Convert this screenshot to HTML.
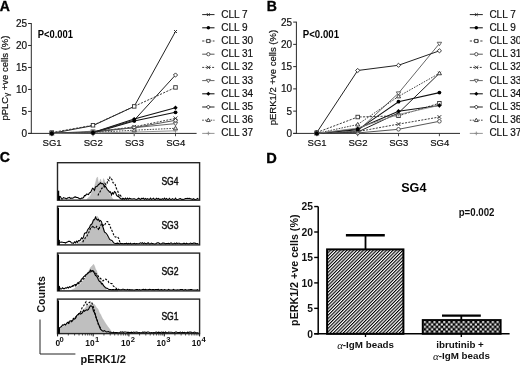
<!DOCTYPE html>
<html><head><meta charset="utf-8"><style>
html,body{margin:0;padding:0;background:#fff;}
body{width:520px;height:365px;overflow:hidden;font-family:"Liberation Sans", sans-serif;}
svg text{font-family:"Liberation Sans", sans-serif;}
</style></head><body>
<svg width="520" height="365" viewBox="0 0 520 365" style="display:block;filter:blur(0.25px);font-family:'Liberation Sans', sans-serif">
<rect width="520" height="365" fill="#fff"/>
<text x="-0.20" y="10.80" font-size="14.0" text-anchor="start" font-weight="bold" fill="#000" stroke="#000" stroke-width="0.35">A</text>
<line x1="31.30" y1="23.10" x2="31.30" y2="133.90" stroke="#2a2a2a" stroke-width="1.0" stroke-linecap="butt"/>
<line x1="28.10" y1="133.40" x2="31.30" y2="133.40" stroke="#2a2a2a" stroke-width="1.0" stroke-linecap="butt"/>
<text x="27.00" y="136.90" font-size="10.0" text-anchor="end" font-weight="normal" fill="#111" stroke="#111" stroke-width="0.2">0</text>
<line x1="28.10" y1="111.42" x2="31.30" y2="111.42" stroke="#2a2a2a" stroke-width="1.0" stroke-linecap="butt"/>
<text x="27.00" y="114.92" font-size="10.0" text-anchor="end" font-weight="normal" fill="#111" stroke="#111" stroke-width="0.2">5</text>
<line x1="28.10" y1="89.44" x2="31.30" y2="89.44" stroke="#2a2a2a" stroke-width="1.0" stroke-linecap="butt"/>
<text x="27.00" y="92.94" font-size="10.0" text-anchor="end" font-weight="normal" fill="#111" stroke="#111" stroke-width="0.2">10</text>
<line x1="28.10" y1="67.46" x2="31.30" y2="67.46" stroke="#2a2a2a" stroke-width="1.0" stroke-linecap="butt"/>
<text x="27.00" y="70.96" font-size="10.0" text-anchor="end" font-weight="normal" fill="#111" stroke="#111" stroke-width="0.2">15</text>
<line x1="28.10" y1="45.48" x2="31.30" y2="45.48" stroke="#2a2a2a" stroke-width="1.0" stroke-linecap="butt"/>
<text x="27.00" y="48.98" font-size="10.0" text-anchor="end" font-weight="normal" fill="#111" stroke="#111" stroke-width="0.2">20</text>
<line x1="28.10" y1="23.50" x2="31.30" y2="23.50" stroke="#2a2a2a" stroke-width="1.0" stroke-linecap="butt"/>
<text x="27.00" y="27.00" font-size="10.0" text-anchor="end" font-weight="normal" fill="#111" stroke="#111" stroke-width="0.2">25</text>
<line x1="28.10" y1="133.40" x2="196.60" y2="133.40" stroke="#2a2a2a" stroke-width="1.0" stroke-linecap="butt"/>
<line x1="51.80" y1="133.40" x2="51.80" y2="136.20" stroke="#333" stroke-width="0.9" stroke-linecap="butt"/>
<text x="52.10" y="145.80" font-size="9.5" text-anchor="middle" font-weight="normal" fill="#111" stroke="#111" stroke-width="0.2">SG1</text>
<line x1="93.00" y1="133.40" x2="93.00" y2="136.20" stroke="#333" stroke-width="0.9" stroke-linecap="butt"/>
<text x="93.30" y="145.80" font-size="9.5" text-anchor="middle" font-weight="normal" fill="#111" stroke="#111" stroke-width="0.2">SG2</text>
<line x1="134.20" y1="133.40" x2="134.20" y2="136.20" stroke="#333" stroke-width="0.9" stroke-linecap="butt"/>
<text x="134.50" y="145.80" font-size="9.5" text-anchor="middle" font-weight="normal" fill="#111" stroke="#111" stroke-width="0.2">SG3</text>
<line x1="175.50" y1="133.40" x2="175.50" y2="136.20" stroke="#333" stroke-width="0.9" stroke-linecap="butt"/>
<text x="175.80" y="145.80" font-size="9.5" text-anchor="middle" font-weight="normal" fill="#111" stroke="#111" stroke-width="0.2">SG4</text>
<text x="0" y="0" font-size="9.5" text-anchor="middle" fill="#111" stroke="#111" stroke-width="0.2" transform="translate(7.60,78.10) rotate(-90)">pPLC<tspan font-size="8" dy="1.5">γ</tspan><tspan dy="-1.5"> +ve cells (%)</tspan></text>
<text x="37.70" y="38.30" font-size="10.3" text-anchor="start" font-weight="bold" fill="#000" textLength="35.2" lengthAdjust="spacingAndGlyphs">P&lt;0.001</text>
<path d="M51.80 133.40 L93.00 125.62 L134.20 106.41 L175.50 31.50" fill="none" stroke="#222" stroke-width="1.0"/>
<path d="M51.80 133.40 L93.00 132.96 L134.20 120.92 L175.50 112.30" fill="none" stroke="#111" stroke-width="1.05"/>
<path d="M51.80 132.52 L93.00 125.27 L134.20 106.41 L175.50 87.42" fill="none" stroke="#333" stroke-width="0.95" stroke-dasharray="2.2 1.3"/>
<path d="M51.80 133.40 L93.00 132.08 L134.20 127.69 L175.50 120.30" fill="none" stroke="#444" stroke-width="0.9"/>
<path d="M51.80 133.40 L93.00 132.08 L134.20 126.81 L175.50 118.41" fill="none" stroke="#2a2a2a" stroke-width="0.9" stroke-dasharray="2 1.3"/>
<path d="M51.80 133.40 L93.00 131.20 L134.20 127.69 L175.50 123.60" fill="none" stroke="#555" stroke-width="0.9"/>
<path d="M51.80 133.40 L93.00 132.52 L134.20 119.11 L175.50 107.68" fill="none" stroke="#111" stroke-width="1.05"/>
<path d="M51.80 133.40 L93.00 132.52 L134.20 120.21 L175.50 75.02" fill="none" stroke="#222" stroke-width="1.0"/>
<path d="M51.80 133.40 L93.00 132.52 L134.20 130.19 L175.50 128.30" fill="none" stroke="#333" stroke-width="0.9" stroke-dasharray="1.6 1.2"/>
<path d="M51.80 133.40 L93.00 132.96 L134.20 132.08 L175.50 130.81" fill="none" stroke="#888" stroke-width="0.9"/>
<path d="M50.30 131.90L53.30 134.90M50.30 134.90L53.30 131.90" stroke="#222" stroke-width="0.9" fill="none"/>
<path d="M91.50 124.12L94.50 127.12M91.50 127.12L94.50 124.12" stroke="#222" stroke-width="0.9" fill="none"/>
<path d="M132.70 104.91L135.70 107.91M132.70 107.91L135.70 104.91" stroke="#222" stroke-width="0.9" fill="none"/>
<path d="M174.00 30.00L177.00 33.00M174.00 33.00L177.00 30.00" stroke="#222" stroke-width="0.9" fill="none"/>
<rect x="50.05" y="130.77" width="3.50" height="3.50" fill="#fff" stroke="#333" stroke-width="0.9"/>
<rect x="91.25" y="123.52" width="3.50" height="3.50" fill="#fff" stroke="#333" stroke-width="0.9"/>
<rect x="132.45" y="104.66" width="3.50" height="3.50" fill="#fff" stroke="#333" stroke-width="0.9"/>
<rect x="173.75" y="85.67" width="3.50" height="3.50" fill="#fff" stroke="#333" stroke-width="0.9"/>
<circle cx="51.80" cy="133.40" r="1.80" fill="#fff" stroke="#444" stroke-width="0.9"/>
<circle cx="93.00" cy="132.08" r="1.80" fill="#fff" stroke="#444" stroke-width="0.9"/>
<circle cx="134.20" cy="127.69" r="1.80" fill="#fff" stroke="#444" stroke-width="0.9"/>
<circle cx="175.50" cy="120.30" r="1.80" fill="#fff" stroke="#444" stroke-width="0.9"/>
<path d="M49.90 131.50L53.70 135.30M49.90 135.30L53.70 131.50" stroke="#2a2a2a" stroke-width="0.9" fill="none"/>
<path d="M91.10 130.18L94.90 133.98M91.10 133.98L94.90 130.18" stroke="#2a2a2a" stroke-width="0.9" fill="none"/>
<path d="M132.30 124.91L136.10 128.71M132.30 128.71L136.10 124.91" stroke="#2a2a2a" stroke-width="0.9" fill="none"/>
<path d="M173.60 116.51L177.40 120.31M173.60 120.31L177.40 116.51" stroke="#2a2a2a" stroke-width="0.9" fill="none"/>
<path d="M49.60 132.08L54.00 132.08L51.80 135.60Z" fill="#fff" stroke="#555" stroke-width="0.9"/>
<path d="M90.80 129.88L95.20 129.88L93.00 133.40Z" fill="#fff" stroke="#555" stroke-width="0.9"/>
<path d="M132.00 126.37L136.40 126.37L134.20 129.89Z" fill="#fff" stroke="#555" stroke-width="0.9"/>
<path d="M173.30 122.28L177.70 122.28L175.50 125.80Z" fill="#fff" stroke="#555" stroke-width="0.9"/>
<path d="M51.80 131.30L53.90 133.40L51.80 135.50L49.70 133.40Z" fill="#fff" stroke="#222" stroke-width="0.9"/>
<path d="M93.00 130.42L95.10 132.52L93.00 134.62L90.90 132.52Z" fill="#fff" stroke="#222" stroke-width="0.9"/>
<path d="M134.20 118.11L136.30 120.21L134.20 122.31L132.10 120.21Z" fill="#fff" stroke="#222" stroke-width="0.9"/>
<path d="M175.50 72.92L177.60 75.02L175.50 77.12L173.40 75.02Z" fill="#fff" stroke="#222" stroke-width="0.9"/>
<path d="M51.80 131.30L53.90 134.87L49.70 134.87Z" fill="#fff" stroke="#333" stroke-width="0.9"/>
<path d="M93.00 130.42L95.10 133.99L90.90 133.99Z" fill="#fff" stroke="#333" stroke-width="0.9"/>
<path d="M134.20 128.09L136.30 131.66L132.10 131.66Z" fill="#fff" stroke="#333" stroke-width="0.9"/>
<path d="M175.50 126.20L177.60 129.77L173.40 129.77Z" fill="#fff" stroke="#333" stroke-width="0.9"/>
<path d="M49.80 133.40L53.80 133.40M51.80 131.40L51.80 135.40" stroke="#888" stroke-width="0.9" fill="none"/>
<path d="M91.00 132.96L95.00 132.96M93.00 130.96L93.00 134.96" stroke="#888" stroke-width="0.9" fill="none"/>
<path d="M132.20 132.08L136.20 132.08M134.20 130.08L134.20 134.08" stroke="#888" stroke-width="0.9" fill="none"/>
<path d="M173.50 130.81L177.50 130.81M175.50 128.81L175.50 132.81" stroke="#888" stroke-width="0.9" fill="none"/>
<circle cx="51.80" cy="133.40" r="1.90" fill="#000"/>
<circle cx="93.00" cy="132.96" r="1.90" fill="#000"/>
<circle cx="134.20" cy="120.92" r="1.90" fill="#000"/>
<circle cx="175.50" cy="112.30" r="1.90" fill="#000"/>
<path d="M51.80 131.20L54.00 133.40L51.80 135.60L49.60 133.40Z" fill="#000"/>
<path d="M93.00 130.32L95.20 132.52L93.00 134.72L90.80 132.52Z" fill="#000"/>
<path d="M134.20 116.91L136.40 119.11L134.20 121.31L132.00 119.11Z" fill="#000"/>
<path d="M175.50 105.48L177.70 107.68L175.50 109.88L173.30 107.68Z" fill="#000"/>
<path d="M202.20 14.60L214.50 14.60" stroke="#222" stroke-width="1.0"/>
<path d="M206.97 13.22L209.73 15.98M206.97 15.98L209.73 13.22" stroke="#222" stroke-width="0.9" fill="none"/>
<text x="221.30" y="17.50" font-size="10" text-anchor="start" font-weight="normal" fill="#111" stroke="#111" stroke-width="0.2">CLL 7</text>
<path d="M202.20 27.80L214.50 27.80" stroke="#111" stroke-width="1.05"/>
<circle cx="208.35" cy="27.80" r="1.75" fill="#000"/>
<text x="221.30" y="30.70" font-size="10" text-anchor="start" font-weight="normal" fill="#111" stroke="#111" stroke-width="0.2">CLL 9</text>
<path d="M202.20 41.00L214.50 41.00" stroke="#333" stroke-width="0.95" stroke-dasharray="2.2 1.3"/>
<rect x="206.74" y="39.39" width="3.22" height="3.22" fill="#fff" stroke="#333" stroke-width="0.9"/>
<text x="221.30" y="43.90" font-size="10" text-anchor="start" font-weight="normal" fill="#111" stroke="#111" stroke-width="0.2">CLL 30</text>
<path d="M202.20 54.20L214.50 54.20" stroke="#444" stroke-width="0.9"/>
<circle cx="208.35" cy="54.20" r="1.66" fill="#fff" stroke="#444" stroke-width="0.9"/>
<text x="221.30" y="57.10" font-size="10" text-anchor="start" font-weight="normal" fill="#111" stroke="#111" stroke-width="0.2">CLL 31</text>
<path d="M202.20 67.40L214.50 67.40" stroke="#2a2a2a" stroke-width="0.9" stroke-dasharray="2 1.3"/>
<path d="M206.60 65.65L210.10 69.15M206.60 69.15L210.10 65.65" stroke="#2a2a2a" stroke-width="0.9" fill="none"/>
<text x="221.30" y="70.30" font-size="10" text-anchor="start" font-weight="normal" fill="#111" stroke="#111" stroke-width="0.2">CLL 32</text>
<path d="M202.20 80.60L214.50 80.60" stroke="#555" stroke-width="0.9"/>
<path d="M206.33 79.39L210.37 79.39L208.35 82.62Z" fill="#fff" stroke="#555" stroke-width="0.9"/>
<text x="221.30" y="83.50" font-size="10" text-anchor="start" font-weight="normal" fill="#111" stroke="#111" stroke-width="0.2">CLL 33</text>
<path d="M202.20 93.80L214.50 93.80" stroke="#111" stroke-width="1.05"/>
<path d="M208.35 91.78L210.37 93.80L208.35 95.82L206.33 93.80Z" fill="#000"/>
<text x="221.30" y="96.70" font-size="10" text-anchor="start" font-weight="normal" fill="#111" stroke="#111" stroke-width="0.2">CLL 34</text>
<path d="M202.20 107.00L214.50 107.00" stroke="#222" stroke-width="1.0"/>
<path d="M208.35 105.07L210.28 107.00L208.35 108.93L206.42 107.00Z" fill="#fff" stroke="#222" stroke-width="0.9"/>
<text x="221.30" y="109.90" font-size="10" text-anchor="start" font-weight="normal" fill="#111" stroke="#111" stroke-width="0.2">CLL 35</text>
<path d="M202.20 120.20L214.50 120.20" stroke="#333" stroke-width="0.9" stroke-dasharray="1.6 1.2"/>
<path d="M208.35 118.27L210.28 121.55L206.42 121.55Z" fill="#fff" stroke="#333" stroke-width="0.9"/>
<text x="221.30" y="123.10" font-size="10" text-anchor="start" font-weight="normal" fill="#111" stroke="#111" stroke-width="0.2">CLL 36</text>
<path d="M202.20 133.40L214.50 133.40" stroke="#888" stroke-width="0.9"/>
<path d="M206.51 133.40L210.19 133.40M208.35 131.56L208.35 135.24" stroke="#888" stroke-width="0.9" fill="none"/>
<text x="221.30" y="136.30" font-size="10" text-anchor="start" font-weight="normal" fill="#111" stroke="#111" stroke-width="0.2">CLL 37</text>
<text x="266.80" y="10.80" font-size="14.0" text-anchor="start" font-weight="bold" fill="#000" stroke="#000" stroke-width="0.35">B</text>
<line x1="296.40" y1="21.70" x2="296.40" y2="133.90" stroke="#2a2a2a" stroke-width="1.0" stroke-linecap="butt"/>
<line x1="293.20" y1="133.40" x2="296.40" y2="133.40" stroke="#2a2a2a" stroke-width="1.0" stroke-linecap="butt"/>
<text x="292.10" y="136.90" font-size="10.0" text-anchor="end" font-weight="normal" fill="#111" stroke="#111" stroke-width="0.2">0</text>
<line x1="293.20" y1="111.14" x2="296.40" y2="111.14" stroke="#2a2a2a" stroke-width="1.0" stroke-linecap="butt"/>
<text x="292.10" y="114.64" font-size="10.0" text-anchor="end" font-weight="normal" fill="#111" stroke="#111" stroke-width="0.2">5</text>
<line x1="293.20" y1="88.88" x2="296.40" y2="88.88" stroke="#2a2a2a" stroke-width="1.0" stroke-linecap="butt"/>
<text x="292.10" y="92.38" font-size="10.0" text-anchor="end" font-weight="normal" fill="#111" stroke="#111" stroke-width="0.2">10</text>
<line x1="293.20" y1="66.62" x2="296.40" y2="66.62" stroke="#2a2a2a" stroke-width="1.0" stroke-linecap="butt"/>
<text x="292.10" y="70.12" font-size="10.0" text-anchor="end" font-weight="normal" fill="#111" stroke="#111" stroke-width="0.2">15</text>
<line x1="293.20" y1="44.36" x2="296.40" y2="44.36" stroke="#2a2a2a" stroke-width="1.0" stroke-linecap="butt"/>
<text x="292.10" y="47.86" font-size="10.0" text-anchor="end" font-weight="normal" fill="#111" stroke="#111" stroke-width="0.2">20</text>
<line x1="293.20" y1="22.10" x2="296.40" y2="22.10" stroke="#2a2a2a" stroke-width="1.0" stroke-linecap="butt"/>
<text x="292.10" y="25.60" font-size="10.0" text-anchor="end" font-weight="normal" fill="#111" stroke="#111" stroke-width="0.2">25</text>
<line x1="293.20" y1="133.40" x2="460.00" y2="133.40" stroke="#2a2a2a" stroke-width="1.0" stroke-linecap="butt"/>
<line x1="316.80" y1="133.40" x2="316.80" y2="136.20" stroke="#333" stroke-width="0.9" stroke-linecap="butt"/>
<text x="317.10" y="145.80" font-size="9.5" text-anchor="middle" font-weight="normal" fill="#111" stroke="#111" stroke-width="0.2">SG1</text>
<line x1="357.70" y1="133.40" x2="357.70" y2="136.20" stroke="#333" stroke-width="0.9" stroke-linecap="butt"/>
<text x="358.00" y="145.80" font-size="9.5" text-anchor="middle" font-weight="normal" fill="#111" stroke="#111" stroke-width="0.2">SG2</text>
<line x1="398.50" y1="133.40" x2="398.50" y2="136.20" stroke="#333" stroke-width="0.9" stroke-linecap="butt"/>
<text x="398.80" y="145.80" font-size="9.5" text-anchor="middle" font-weight="normal" fill="#111" stroke="#111" stroke-width="0.2">SG3</text>
<line x1="439.40" y1="133.40" x2="439.40" y2="136.20" stroke="#333" stroke-width="0.9" stroke-linecap="butt"/>
<text x="439.70" y="145.80" font-size="9.5" text-anchor="middle" font-weight="normal" fill="#111" stroke="#111" stroke-width="0.2">SG4</text>
<text x="0" y="0" font-size="9.5" text-anchor="middle" fill="#111" stroke="#111" stroke-width="0.2" transform="translate(276.20,77.60) rotate(-90)">pERK1/2 +ve cells (%)</text>
<text x="302.80" y="38.30" font-size="10.3" text-anchor="start" font-weight="bold" fill="#000" textLength="36.2" lengthAdjust="spacingAndGlyphs">P&lt;0.001</text>
<path d="M316.80 133.40 L357.70 132.06 L398.50 112.92 L439.40 73.30" fill="none" stroke="#222" stroke-width="1.0"/>
<path d="M316.80 133.40 L357.70 129.84 L398.50 101.70 L439.40 92.62" fill="none" stroke="#111" stroke-width="1.05"/>
<path d="M316.80 132.51 L357.70 117.02 L398.50 115.81 L439.40 103.22" fill="none" stroke="#333" stroke-width="0.95" stroke-dasharray="2.2 1.3"/>
<path d="M316.80 133.40 L357.70 132.95 L398.50 129.30 L439.40 121.29" fill="none" stroke="#444" stroke-width="0.9"/>
<path d="M316.80 133.40 L357.70 131.62 L398.50 124.10 L439.40 117.02" fill="none" stroke="#2a2a2a" stroke-width="0.9" stroke-dasharray="2 1.3"/>
<path d="M316.80 133.40 L357.70 131.17 L398.50 93.20 L439.40 43.60" fill="none" stroke="#555" stroke-width="0.9"/>
<path d="M316.80 133.40 L357.70 128.81 L398.50 111.18 L439.40 105.49" fill="none" stroke="#111" stroke-width="1.05"/>
<path d="M316.80 132.51 L357.70 70.49 L398.50 65.28 L439.40 50.82" fill="none" stroke="#222" stroke-width="1.0"/>
<path d="M316.80 133.40 L357.70 124.50 L398.50 96.40 L439.40 73.30" fill="none" stroke="#333" stroke-width="0.9" stroke-dasharray="1.6 1.2"/>
<path d="M316.80 133.40 L357.70 128.06 L398.50 114.48 L439.40 105.35" fill="none" stroke="#888" stroke-width="0.9"/>
<path d="M315.30 131.90L318.30 134.90M315.30 134.90L318.30 131.90" stroke="#222" stroke-width="0.9" fill="none"/>
<path d="M356.20 130.56L359.20 133.56M356.20 133.56L359.20 130.56" stroke="#222" stroke-width="0.9" fill="none"/>
<path d="M397.00 111.42L400.00 114.42M397.00 114.42L400.00 111.42" stroke="#222" stroke-width="0.9" fill="none"/>
<path d="M437.90 71.80L440.90 74.80M437.90 74.80L440.90 71.80" stroke="#222" stroke-width="0.9" fill="none"/>
<rect x="315.05" y="130.76" width="3.50" height="3.50" fill="#fff" stroke="#333" stroke-width="0.9"/>
<rect x="355.95" y="115.27" width="3.50" height="3.50" fill="#fff" stroke="#333" stroke-width="0.9"/>
<rect x="396.75" y="114.06" width="3.50" height="3.50" fill="#fff" stroke="#333" stroke-width="0.9"/>
<rect x="437.65" y="101.47" width="3.50" height="3.50" fill="#fff" stroke="#333" stroke-width="0.9"/>
<circle cx="316.80" cy="133.40" r="1.80" fill="#fff" stroke="#444" stroke-width="0.9"/>
<circle cx="357.70" cy="132.95" r="1.80" fill="#fff" stroke="#444" stroke-width="0.9"/>
<circle cx="398.50" cy="129.30" r="1.80" fill="#fff" stroke="#444" stroke-width="0.9"/>
<circle cx="439.40" cy="121.29" r="1.80" fill="#fff" stroke="#444" stroke-width="0.9"/>
<path d="M314.90 131.50L318.70 135.30M314.90 135.30L318.70 131.50" stroke="#2a2a2a" stroke-width="0.9" fill="none"/>
<path d="M355.80 129.72L359.60 133.52M355.80 133.52L359.60 129.72" stroke="#2a2a2a" stroke-width="0.9" fill="none"/>
<path d="M396.60 122.20L400.40 126.00M396.60 126.00L400.40 122.20" stroke="#2a2a2a" stroke-width="0.9" fill="none"/>
<path d="M437.50 115.12L441.30 118.92M437.50 118.92L441.30 115.12" stroke="#2a2a2a" stroke-width="0.9" fill="none"/>
<path d="M314.60 132.08L319.00 132.08L316.80 135.60Z" fill="#fff" stroke="#555" stroke-width="0.9"/>
<path d="M355.50 129.85L359.90 129.85L357.70 133.37Z" fill="#fff" stroke="#555" stroke-width="0.9"/>
<path d="M396.30 91.88L400.70 91.88L398.50 95.40Z" fill="#fff" stroke="#555" stroke-width="0.9"/>
<path d="M437.20 42.28L441.60 42.28L439.40 45.80Z" fill="#fff" stroke="#555" stroke-width="0.9"/>
<path d="M316.80 130.41L318.90 132.51L316.80 134.61L314.70 132.51Z" fill="#fff" stroke="#222" stroke-width="0.9"/>
<path d="M357.70 68.39L359.80 70.49L357.70 72.59L355.60 70.49Z" fill="#fff" stroke="#222" stroke-width="0.9"/>
<path d="M398.50 63.18L400.60 65.28L398.50 67.38L396.40 65.28Z" fill="#fff" stroke="#222" stroke-width="0.9"/>
<path d="M439.40 48.72L441.50 50.82L439.40 52.92L437.30 50.82Z" fill="#fff" stroke="#222" stroke-width="0.9"/>
<path d="M316.80 131.30L318.90 134.87L314.70 134.87Z" fill="#fff" stroke="#333" stroke-width="0.9"/>
<path d="M357.70 122.40L359.80 125.97L355.60 125.97Z" fill="#fff" stroke="#333" stroke-width="0.9"/>
<path d="M398.50 94.30L400.60 97.87L396.40 97.87Z" fill="#fff" stroke="#333" stroke-width="0.9"/>
<path d="M439.40 71.20L441.50 74.77L437.30 74.77Z" fill="#fff" stroke="#333" stroke-width="0.9"/>
<path d="M314.80 133.40L318.80 133.40M316.80 131.40L316.80 135.40" stroke="#888" stroke-width="0.9" fill="none"/>
<path d="M355.70 128.06L359.70 128.06M357.70 126.06L357.70 130.06" stroke="#888" stroke-width="0.9" fill="none"/>
<path d="M396.50 114.48L400.50 114.48M398.50 112.48L398.50 116.48" stroke="#888" stroke-width="0.9" fill="none"/>
<path d="M437.40 105.35L441.40 105.35M439.40 103.35L439.40 107.35" stroke="#888" stroke-width="0.9" fill="none"/>
<circle cx="316.80" cy="133.40" r="1.90" fill="#000"/>
<circle cx="357.70" cy="129.84" r="1.90" fill="#000"/>
<circle cx="398.50" cy="101.70" r="1.90" fill="#000"/>
<circle cx="439.40" cy="92.62" r="1.90" fill="#000"/>
<path d="M316.80 131.20L319.00 133.40L316.80 135.60L314.60 133.40Z" fill="#000"/>
<path d="M357.70 126.61L359.90 128.81L357.70 131.01L355.50 128.81Z" fill="#000"/>
<path d="M398.50 108.98L400.70 111.18L398.50 113.38L396.30 111.18Z" fill="#000"/>
<path d="M439.40 103.29L441.60 105.49L439.40 107.69L437.20 105.49Z" fill="#000"/>
<path d="M469.80 14.60L482.80 14.60" stroke="#222" stroke-width="1.0"/>
<path d="M474.92 13.22L477.68 15.98M474.92 15.98L477.68 13.22" stroke="#222" stroke-width="0.9" fill="none"/>
<text x="489.40" y="17.50" font-size="10" text-anchor="start" font-weight="normal" fill="#111" stroke="#111" stroke-width="0.2">CLL 7</text>
<path d="M469.80 27.80L482.80 27.80" stroke="#111" stroke-width="1.05"/>
<circle cx="476.30" cy="27.80" r="1.75" fill="#000"/>
<text x="489.40" y="30.70" font-size="10" text-anchor="start" font-weight="normal" fill="#111" stroke="#111" stroke-width="0.2">CLL 9</text>
<path d="M469.80 41.00L482.80 41.00" stroke="#333" stroke-width="0.95" stroke-dasharray="2.2 1.3"/>
<rect x="474.69" y="39.39" width="3.22" height="3.22" fill="#fff" stroke="#333" stroke-width="0.9"/>
<text x="489.40" y="43.90" font-size="10" text-anchor="start" font-weight="normal" fill="#111" stroke="#111" stroke-width="0.2">CLL 30</text>
<path d="M469.80 54.20L482.80 54.20" stroke="#444" stroke-width="0.9"/>
<circle cx="476.30" cy="54.20" r="1.66" fill="#fff" stroke="#444" stroke-width="0.9"/>
<text x="489.40" y="57.10" font-size="10" text-anchor="start" font-weight="normal" fill="#111" stroke="#111" stroke-width="0.2">CLL 31</text>
<path d="M469.80 67.40L482.80 67.40" stroke="#2a2a2a" stroke-width="0.9" stroke-dasharray="2 1.3"/>
<path d="M474.55 65.65L478.05 69.15M474.55 69.15L478.05 65.65" stroke="#2a2a2a" stroke-width="0.9" fill="none"/>
<text x="489.40" y="70.30" font-size="10" text-anchor="start" font-weight="normal" fill="#111" stroke="#111" stroke-width="0.2">CLL 32</text>
<path d="M469.80 80.60L482.80 80.60" stroke="#555" stroke-width="0.9"/>
<path d="M474.28 79.39L478.32 79.39L476.30 82.62Z" fill="#fff" stroke="#555" stroke-width="0.9"/>
<text x="489.40" y="83.50" font-size="10" text-anchor="start" font-weight="normal" fill="#111" stroke="#111" stroke-width="0.2">CLL 33</text>
<path d="M469.80 93.80L482.80 93.80" stroke="#111" stroke-width="1.05"/>
<path d="M476.30 91.78L478.32 93.80L476.30 95.82L474.28 93.80Z" fill="#000"/>
<text x="489.40" y="96.70" font-size="10" text-anchor="start" font-weight="normal" fill="#111" stroke="#111" stroke-width="0.2">CLL 34</text>
<path d="M469.80 107.00L482.80 107.00" stroke="#222" stroke-width="1.0"/>
<path d="M476.30 105.07L478.23 107.00L476.30 108.93L474.37 107.00Z" fill="#fff" stroke="#222" stroke-width="0.9"/>
<text x="489.40" y="109.90" font-size="10" text-anchor="start" font-weight="normal" fill="#111" stroke="#111" stroke-width="0.2">CLL 35</text>
<path d="M469.80 120.20L482.80 120.20" stroke="#333" stroke-width="0.9" stroke-dasharray="1.6 1.2"/>
<path d="M476.30 118.27L478.23 121.55L474.37 121.55Z" fill="#fff" stroke="#333" stroke-width="0.9"/>
<text x="489.40" y="123.10" font-size="10" text-anchor="start" font-weight="normal" fill="#111" stroke="#111" stroke-width="0.2">CLL 36</text>
<path d="M469.80 133.40L482.80 133.40" stroke="#888" stroke-width="0.9"/>
<path d="M474.46 133.40L478.14 133.40M476.30 131.56L476.30 135.24" stroke="#888" stroke-width="0.9" fill="none"/>
<text x="489.40" y="136.30" font-size="10" text-anchor="start" font-weight="normal" fill="#111" stroke="#111" stroke-width="0.2">CLL 37</text>
<text x="-0.30" y="162.20" font-size="14.0" text-anchor="start" font-weight="bold" fill="#000" stroke="#000" stroke-width="0.35">C</text>
<path d="M58.50 200.20 L59.50 200.20 L60.50 200.20 L61.50 200.20 L62.50 200.20 L63.50 200.20 L64.50 200.20 L65.50 200.20 L66.50 200.20 L67.50 200.20 L68.50 200.20 L69.50 200.20 L70.50 200.20 L71.50 200.20 L72.50 200.20 L73.50 200.20 L74.50 200.20 L75.50 200.20 L76.50 200.20 L77.50 200.20 L78.50 200.20 L79.50 200.20 L80.50 200.20 L81.50 200.20 L82.50 200.20 L83.50 200.20 L84.50 200.20 L85.50 200.20 L86.50 199.94 L87.50 198.41 L88.50 197.44 L89.50 196.99 L90.50 195.21 L91.50 193.27 L92.50 190.99 L93.50 188.80 L94.50 186.77 L95.50 182.86 L96.50 178.57 L97.50 176.93 L98.50 182.83 L99.50 181.90 L100.50 178.97 L101.50 181.97 L102.50 183.58 L103.50 178.58 L104.50 180.64 L105.50 186.86 L106.50 188.86 L107.50 190.14 L108.50 191.59 L109.50 194.12 L110.50 195.84 L111.50 196.91 L112.50 198.51 L113.50 199.40 L114.50 200.20 L115.50 200.20 L116.50 200.20 L117.50 200.20 L118 200.20 L58.50 200.20Z" fill="#bfbfbf" stroke="#b0b0b0" stroke-width="0.4"/>
<path d="M58.50 199.50 L59.50 196.37 L60.50 196.64 L61.50 198.91 L62.50 199.00 L63.50 197.56 L64.50 197.96 L65.50 198.28 L66.50 198.93 L67.50 198.03 L68.50 197.71 L69.50 197.46 L70.50 198.43 L71.50 197.96 L72.50 198.24 L73.50 197.72 L74.50 197.11 L75.50 196.91 L76.50 197.57 L77.50 197.56 L78.50 197.97 L79.50 198.69 L80.50 198.85 L81.50 197.99 L82.50 198.18 L83.50 197.56 L84.50 195.64 L85.50 195.66 L86.50 194.02 L87.50 194.25 L88.50 194.56 L89.50 192.72 L90.50 192.56 L91.50 190.61 L92.50 188.32 L93.50 189.02 L94.50 190.27 L95.50 186.93 L96.50 186.53 L97.50 185.99 L98.50 184.44 L99.50 183.96 L100.50 182.83 L101.50 183.77 L102.50 183.58 L103.50 184.41 L104.50 186.79 L105.50 186.41 L106.50 188.05 L107.50 189.94 L108.50 190.61 L109.50 192.07 L110.50 191.90 L111.50 195.00 L112.50 192.74 L113.50 193.92 L114.50 191.65 L115.50 192.28 L116.50 195.26 L117.50 196.24 L118.50 196.57 L119.50 197.54 L120.50 198.50 L121.50 199.24 L122.50 199.08 L123.50 198.41 L124.50 199.43 L125.50 198.10 L126.50 199.30 L127.50 198.18 L128.50 199.29 L129.50 198.18 L130.50 198.63 L131.50 198.99 L132.50 198.96 L133.50 198.72 L134.50 198.82 L135.50 199.31 L136.50 199.49 L137.50 198.94 L138.50 198.19 L139.50 198.73 L140.50 199.50 L141.50 198.37 L142.50 198.53 L143.50 198.20 L144.50 199.48 L145.50 198.48 L146.50 199.50 L147.50 198.64 L148.50 199.32 L149.50 199.40 L150.50 198.22 L151.50 199.50 L152.50 198.87 L153.50 198.27 L154.50 199.37 L155.50 199.43 L156.50 198.23 L157.50 199.06 L158.50 198.53 L159.50 199.50 L160.50 199.17 L161.50 199.50 L162.50 198.62 L163.50 199.50 L164.50 198.12 L165.50 199.50 L166.50 198.53 L167.50 199.50 L168.50 199.38 L169.50 198.39 L170.50 199.50 L171.50 199.50 L172.50 198.62 L173.50 199.16 L174.50 199.50 L175.50 198.09 L176.50 199.50 L177.50 199.50 L178.50 199.25 L179.50 198.77 L180.50 198.55 L181.50 199.50 L182.50 199.27 L183.50 199.50 L184.50 199.08 L185.50 198.52 L186.50 198.57 L187.50 198.29 L188.50 198.55 L189.50 198.36 L190.50 198.65 L191.50 199.07 L192.50 199.50 L193.50 198.76 L194.50 199.37 L195.50 199.50 L196.50 199.17 L197.50 198.45 L198.50 199.50" fill="none" stroke="#000" stroke-width="1.1"/>
<path d="M98.00 195.50 L99.00 192.83 L100.00 191.99 L101.00 189.61 L102.00 188.02 L103.00 188.15 L104.00 187.10 L105.00 183.47 L106.00 184.75 L107.00 183.51 L108.00 179.62 L109.00 180.61 L110.00 177.22 L111.00 178.59 L112.00 179.64 L113.00 182.83 L114.00 182.91 L115.00 183.95 L116.00 187.55 L117.00 189.58 L118.00 191.69 L119.00 195.78 L120.00 194.48 L121.00 196.29 L122.00 198.14 L123.00 199.37 L124.00 198.36" fill="none" stroke="#000" stroke-width="1.1" stroke-dasharray="2.2 1.4"/>
<rect x="57.50" y="162.70" width="142.10" height="37.50" fill="none" stroke="#262626" stroke-width="1.4"/>
<line x1="58.50" y1="190.70" x2="58.50" y2="200.20" stroke="#000" stroke-width="1.4" stroke-linecap="butt"/>
<line x1="59.50" y1="196.20" x2="59.50" y2="200.20" stroke="#000" stroke-width="1.0" stroke-linecap="butt"/>
<text x="161.40" y="184.75" font-size="10.2" text-anchor="start" font-weight="normal" fill="#111" stroke="#111" stroke-width="0.45" textLength="17.2" lengthAdjust="spacingAndGlyphs">SG4</text>
<path d="M58.50 244.90 L59.50 244.90 L60.50 244.90 L61.50 244.90 L62.50 244.90 L63.50 244.90 L64.50 244.90 L65.50 244.90 L66.50 244.90 L67.50 244.90 L68.50 244.90 L69.50 244.90 L70.50 244.90 L71.50 244.90 L72.50 244.90 L73.50 244.90 L74.50 244.74 L75.50 244.30 L76.50 243.66 L77.50 243.61 L78.50 243.08 L79.50 242.38 L80.50 242.18 L81.50 241.20 L82.50 240.05 L83.50 238.49 L84.50 238.13 L85.50 236.34 L86.50 234.97 L87.50 232.30 L88.50 230.38 L89.50 228.79 L90.50 225.22 L91.50 223.25 L92.50 221.93 L93.50 220.49 L94.50 219.63 L95.50 218.33 L96.50 216.28 L97.50 216.43 L98.50 218.33 L99.50 220.26 L100.50 222.81 L101.50 224.70 L102.50 227.23 L103.50 229.17 L104.50 231.87 L105.50 233.70 L106.50 235.78 L107.50 237.30 L108.50 239.08 L109.50 240.58 L110.50 240.95 L111.50 242.31 L112.50 243.52 L113.50 244.39 L114.50 244.90 L115.50 244.90 L116.50 244.90 L117.50 244.90 L118 244.90 L58.50 244.90Z" fill="#bfbfbf" stroke="#b0b0b0" stroke-width="0.4"/>
<path d="M58.50 244.20 L59.50 242.24 L60.50 242.28 L61.50 242.05 L62.50 242.25 L63.50 242.50 L64.50 242.53 L65.50 243.05 L66.50 242.23 L67.50 242.01 L68.50 241.38 L69.50 241.34 L70.50 241.66 L71.50 243.02 L72.50 243.04 L73.50 243.44 L74.50 241.80 L75.50 242.84 L76.50 241.25 L77.50 242.27 L78.50 240.56 L79.50 240.82 L80.50 239.94 L81.50 237.81 L82.50 238.70 L83.50 237.09 L84.50 233.37 L85.50 232.93 L86.50 233.01 L87.50 230.18 L88.50 228.54 L89.50 227.71 L90.50 224.90 L91.50 224.65 L92.50 222.69 L93.50 219.88 L94.50 219.77 L95.50 217.08 L96.50 219.19 L97.50 220.05 L98.50 219.33 L99.50 221.36 L100.50 220.45 L101.50 221.70 L102.50 225.76 L103.50 228.75 L104.50 232.17 L105.50 232.61 L106.50 233.73 L107.50 235.21 L108.50 237.27 L109.50 239.07 L110.50 240.04 L111.50 240.29 L112.50 241.20 L113.50 242.85 L114.50 243.26 L115.50 243.45 L116.50 243.39 L117.50 243.14 L118.50 243.60 L119.50 244.17 L120.50 243.18 L121.50 243.66 L122.50 243.54 L123.50 243.90 L124.50 243.63 L125.50 243.67 L126.50 243.18 L127.50 244.02 L128.50 243.44 L129.50 243.90 L130.50 243.24 L131.50 244.07 L132.50 243.75 L133.50 243.66 L134.50 243.27 L135.50 244.02 L136.50 243.48 L137.50 243.80 L138.50 243.70 L139.50 243.44 L140.50 242.81 L141.50 243.43 L142.50 242.82 L143.50 243.84 L144.50 242.87 L145.50 243.60 L146.50 243.83 L147.50 243.11 L148.50 242.90 L149.50 244.07 L150.50 243.74 L151.50 243.10 L152.50 243.65 L153.50 243.79 L154.50 244.09 L155.50 244.05 L156.50 243.31 L157.50 242.85 L158.50 242.84 L159.50 243.47 L160.50 244.09 L161.50 243.71 L162.50 243.12 L163.50 243.07 L164.50 243.32 L165.50 243.84 L166.50 243.47 L167.50 243.54 L168.50 243.35 L169.50 243.82 L170.50 242.96 L171.50 243.03 L172.50 243.95 L173.50 243.80 L174.50 243.07 L175.50 243.82 L176.50 242.99 L177.50 243.53 L178.50 243.31 L179.50 243.30 L180.50 243.92 L181.50 243.83 L182.50 243.88 L183.50 243.35 L184.50 243.34 L185.50 244.04 L186.50 243.11 L187.50 243.69 L188.50 243.91 L189.50 243.68 L190.50 243.02 L191.50 243.55 L192.50 243.48 L193.50 243.13 L194.50 243.09 L195.50 243.35 L196.50 243.78 L197.50 243.59 L198.50 244.20" fill="none" stroke="#000" stroke-width="1.1"/>
<path d="M82.70 242.15 L83.70 240.20 L84.70 239.06 L85.70 236.89 L86.70 236.62 L87.70 234.50 L88.70 232.72 L89.70 230.51 L90.70 227.66 L91.70 227.89 L92.70 225.52 L93.70 226.99 L94.70 228.28 L95.70 228.03 L96.70 226.47 L97.70 227.62 L98.70 230.16 L99.70 226.98 L100.70 225.77 L101.70 223.38 L102.70 224.44 L103.70 225.95 L104.70 224.95 L105.70 223.16 L106.70 221.68 L107.70 221.59 L108.70 224.23 L109.70 224.69 L110.70 228.10 L111.70 229.94 L112.70 232.43 L113.70 234.78 L114.70 236.69 L115.70 237.18 L116.70 236.75 L117.70 236.86 L118.70 238.37 L119.70 241.81 L120.70 242.74" fill="none" stroke="#000" stroke-width="1.1" stroke-dasharray="2.2 1.4"/>
<rect x="57.50" y="206.30" width="142.10" height="38.60" fill="none" stroke="#262626" stroke-width="1.4"/>
<line x1="58.40" y1="207.80" x2="58.40" y2="244.90" stroke="#000" stroke-width="1.2" stroke-linecap="butt"/>
<line x1="59.40" y1="239.90" x2="59.40" y2="244.90" stroke="#000" stroke-width="1.0" stroke-linecap="butt"/>
<text x="161.40" y="228.90" font-size="10.2" text-anchor="start" font-weight="normal" fill="#111" stroke="#111" stroke-width="0.45" textLength="17.2" lengthAdjust="spacingAndGlyphs">SG3</text>
<path d="M58.50 290.90 L59.50 290.90 L60.50 290.90 L61.50 290.90 L62.50 290.90 L63.50 290.90 L64.50 290.90 L65.50 290.90 L66.50 290.90 L67.50 290.90 L68.50 290.90 L69.50 290.90 L70.50 290.85 L71.50 290.02 L72.50 289.54 L73.50 289.09 L74.50 288.68 L75.50 287.41 L76.50 286.60 L77.50 286.13 L78.50 285.31 L79.50 284.77 L80.50 284.10 L81.50 282.58 L82.50 281.11 L83.50 280.50 L84.50 278.16 L85.50 277.44 L86.50 275.77 L87.50 274.37 L88.50 271.20 L89.50 269.57 L90.50 267.62 L91.50 266.49 L92.50 265.51 L93.50 264.22 L94.50 265.90 L95.50 269.10 L96.50 270.52 L97.50 273.83 L98.50 276.38 L99.50 277.46 L100.50 280.43 L101.50 281.30 L102.50 283.72 L103.50 285.08 L104.50 286.85 L105.50 288.17 L106.50 289.82 L107.50 290.90 L108.50 290.90 L109.50 290.90 L110.50 290.90 L111.50 290.90 L112.50 290.90 L113.50 290.90 L114.50 290.90 L115.50 290.90 L116.50 290.90 L117.50 290.90 L118 290.90 L58.50 290.90Z" fill="#bfbfbf" stroke="#b0b0b0" stroke-width="0.4"/>
<path d="M58.50 290.20 L59.50 287.23 L60.50 289.02 L61.50 289.04 L62.50 287.83 L63.50 288.63 L64.50 288.59 L65.50 287.83 L66.50 288.08 L67.50 287.27 L68.50 287.93 L69.50 286.70 L70.50 287.33 L71.50 286.68 L72.50 285.77 L73.50 285.64 L74.50 284.69 L75.50 284.49 L76.50 285.01 L77.50 282.85 L78.50 282.54 L79.50 282.04 L80.50 281.26 L81.50 279.07 L82.50 278.55 L83.50 276.91 L84.50 276.21 L85.50 274.87 L86.50 274.58 L87.50 273.34 L88.50 272.50 L89.50 272.13 L90.50 270.25 L91.50 271.16 L92.50 270.69 L93.50 271.38 L94.50 273.26 L95.50 275.59 L96.50 275.86 L97.50 277.65 L98.50 280.02 L99.50 281.51 L100.50 281.64 L101.50 283.79 L102.50 283.68 L103.50 285.69 L104.50 286.67 L105.50 287.69 L106.50 288.14 L107.50 288.42 L108.50 289.33 L109.50 289.56 L110.50 289.53 L111.50 289.78 L112.50 289.53 L113.50 289.58 L114.50 289.68 L115.50 289.48 L116.50 289.61 L117.50 289.99 L118.50 289.22 L119.50 289.77 L120.50 289.71 L121.50 289.74 L122.50 289.30 L123.50 289.29 L124.50 289.66 L125.50 289.76 L126.50 290.02 L127.50 289.36 L128.50 289.97 L129.50 289.66 L130.50 289.83 L131.50 289.85 L132.50 289.82 L133.50 289.96 L134.50 290.09 L135.50 289.68 L136.50 289.46 L137.50 289.59 L138.50 289.96 L139.50 289.55 L140.50 290.09 L141.50 289.79 L142.50 289.45 L143.50 289.37 L144.50 289.75 L145.50 289.44 L146.50 289.73 L147.50 289.71 L148.50 289.66 L149.50 289.32 L150.50 289.53 L151.50 289.75 L152.50 289.55 L153.50 289.62 L154.50 289.86 L155.50 289.50 L156.50 289.48 L157.50 289.65 L158.50 289.38 L159.50 290.14 L160.50 289.74 L161.50 289.64 L162.50 289.88 L163.50 290.02 L164.50 289.59 L165.50 289.81 L166.50 289.94 L167.50 290.13 L168.50 289.37 L169.50 289.88 L170.50 290.07 L171.50 289.99 L172.50 289.96 L173.50 289.46 L174.50 290.03 L175.50 289.95 L176.50 290.10 L177.50 289.79 L178.50 290.01 L179.50 289.90 L180.50 289.58 L181.50 289.43 L182.50 289.50 L183.50 290.15 L184.50 289.88 L185.50 289.50 L186.50 290.16 L187.50 290.03 L188.50 289.79 L189.50 289.88 L190.50 289.59 L191.50 289.61 L192.50 289.82 L193.50 290.00 L194.50 290.01 L195.50 289.99 L196.50 290.15 L197.50 289.66 L198.50 290.20" fill="none" stroke="#000" stroke-width="1.1"/>
<path d="M72.00 286.61 L73.00 286.02 L74.00 285.56 L75.00 286.42 L76.00 284.87 L77.00 284.50 L78.00 283.65 L79.00 283.62 L80.00 282.75 L81.00 281.30 L82.00 280.70 L83.00 279.28 L84.00 278.56 L85.00 276.95 L86.00 274.82 L87.00 274.34 L88.00 273.18 L89.00 272.03 L90.00 271.95 L91.00 271.83 L92.00 270.36 L93.00 271.04 L94.00 271.92 L95.00 272.98 L96.00 273.35 L97.00 275.45 L98.00 275.73 L99.00 277.44 L100.00 278.07 L101.00 278.91 L102.00 280.03 L103.00 280.95 L104.00 279.89 L105.00 279.09 L106.00 279.20 L107.00 280.29 L108.00 280.94 L109.00 282.77 L110.00 283.28 L111.00 283.52 L112.00 283.63 L113.00 285.75 L114.00 286.56 L115.00 287.24 L116.00 288.07 L117.00 288.94" fill="none" stroke="#000" stroke-width="1.1" stroke-dasharray="2.2 1.4"/>
<rect x="57.50" y="253.10" width="142.10" height="37.80" fill="none" stroke="#262626" stroke-width="1.4"/>
<line x1="58.40" y1="254.60" x2="58.40" y2="290.90" stroke="#000" stroke-width="1.2" stroke-linecap="butt"/>
<line x1="59.40" y1="285.90" x2="59.40" y2="290.90" stroke="#000" stroke-width="1.0" stroke-linecap="butt"/>
<text x="161.40" y="275.30" font-size="10.2" text-anchor="start" font-weight="normal" fill="#111" stroke="#111" stroke-width="0.45" textLength="17.2" lengthAdjust="spacingAndGlyphs">SG2</text>
<path d="M58.50 328.28 L59.50 327.86 L60.50 327.18 L61.50 326.49 L62.50 326.86 L63.50 326.39 L64.50 325.73 L65.50 324.49 L66.50 324.78 L67.50 323.33 L68.50 322.81 L69.50 322.92 L70.50 321.61 L71.50 320.86 L72.50 320.03 L73.50 318.34 L74.50 318.67 L75.50 317.77 L76.50 315.48 L77.50 315.24 L78.50 314.65 L79.50 313.71 L80.50 312.91 L81.50 311.34 L82.50 311.51 L83.50 310.50 L84.50 308.86 L85.50 307.66 L86.50 306.09 L87.50 305.50 L88.50 305.43 L89.50 304.89 L90.50 303.50 L91.50 303.04 L92.50 304.51 L93.50 304.02 L94.50 304.58 L95.50 305.89 L96.50 307.74 L97.50 308.43 L98.50 310.28 L99.50 313.03 L100.50 314.28 L101.50 316.62 L102.50 318.62 L103.50 319.95 L104.50 321.71 L105.50 323.37 L106.50 324.77 L107.50 326.25 L108.50 327.58 L109.50 328.86 L110.50 330.20 L111.50 331.73 L112.50 332.98 L113.50 333.55 L114.50 333.60 L115.50 333.60 L116.50 333.60 L117.50 333.60 L118 333.60 L58.50 333.60Z" fill="#bfbfbf" stroke="#b0b0b0" stroke-width="0.4"/>
<path d="M58.50 332.90 L59.50 327.85 L60.50 327.13 L61.50 326.51 L62.50 324.85 L63.50 325.16 L64.50 324.21 L65.50 324.95 L66.50 323.63 L67.50 322.46 L68.50 322.60 L69.50 321.26 L70.50 320.76 L71.50 321.03 L72.50 321.02 L73.50 318.76 L74.50 319.15 L75.50 318.38 L76.50 315.94 L77.50 314.88 L78.50 314.23 L79.50 313.33 L80.50 314.12 L81.50 313.61 L82.50 312.78 L83.50 310.32 L84.50 311.28 L85.50 310.38 L86.50 309.86 L87.50 310.13 L88.50 309.49 L89.50 307.19 L90.50 305.91 L91.50 305.95 L92.50 307.04 L93.50 311.23 L94.50 312.60 L95.50 315.42 L96.50 318.76 L97.50 321.58 L98.50 323.86 L99.50 326.56 L100.50 329.08 L101.50 330.16 L102.50 330.92 L103.50 331.11 L104.50 330.55 L105.50 331.40 L106.50 332.01 L107.50 331.76 L108.50 331.64 L109.50 332.24 L110.50 332.11 L111.50 332.70 L112.50 332.73 L113.50 332.16 L114.50 332.75 L115.50 332.51 L116.50 332.44 L117.50 332.63 L118.50 332.78 L119.50 332.81 L120.50 331.93 L121.50 332.18 L122.50 331.94 L123.50 332.38 L124.50 331.95 L125.50 332.04 L126.50 332.27 L127.50 332.36 L128.50 332.38 L129.50 332.65 L130.50 332.52 L131.50 332.20 L132.50 332.69 L133.50 332.08 L134.50 332.40 L135.50 332.31 L136.50 332.11 L137.50 332.28 L138.50 332.75 L139.50 332.65 L140.50 332.88 L141.50 332.85 L142.50 332.00 L143.50 332.33 L144.50 331.99 L145.50 332.16 L146.50 332.59 L147.50 332.00 L148.50 332.04 L149.50 332.47 L150.50 332.81 L151.50 332.60 L152.50 332.74 L153.50 332.56 L154.50 332.82 L155.50 332.24 L156.50 332.00 L157.50 332.71 L158.50 332.19 L159.50 332.37 L160.50 332.46 L161.50 332.07 L162.50 332.56 L163.50 332.16 L164.50 332.88 L165.50 332.03 L166.50 332.74 L167.50 332.90 L168.50 332.11 L169.50 332.26 L170.50 332.30 L171.50 332.22 L172.50 332.57 L173.50 332.81 L174.50 332.63 L175.50 332.05 L176.50 332.03 L177.50 332.71 L178.50 332.52 L179.50 332.52 L180.50 332.11 L181.50 332.90 L182.50 332.18 L183.50 332.70 L184.50 332.44 L185.50 332.82 L186.50 332.86 L187.50 332.14 L188.50 332.48 L189.50 332.06 L190.50 332.16 L191.50 332.26 L192.50 332.88 L193.50 332.41 L194.50 332.05 L195.50 332.49 L196.50 332.89 L197.50 332.78 L198.50 332.90" fill="none" stroke="#000" stroke-width="1.1"/>
<path d="M68.00 323.76 L69.00 323.14 L70.00 322.27 L71.00 322.35 L72.00 320.60 L73.00 319.12 L74.00 318.08 L75.00 318.53 L76.00 316.60 L77.00 315.67 L78.00 314.89 L79.00 312.97 L80.00 312.84 L81.00 311.01 L82.00 308.01 L83.00 306.63 L84.00 305.30 L85.00 303.34 L86.00 301.82 L87.00 304.79 L88.00 303.68 L89.00 302.76 L90.00 302.05 L91.00 301.87 L92.00 303.04 L93.00 305.79 L94.00 308.87 L95.00 313.74 L96.00 317.45 L97.00 318.94 L98.00 323.66 L99.00 326.47 L100.00 327.11 L101.00 329.51" fill="none" stroke="#000" stroke-width="1.1" stroke-dasharray="2.2 1.4"/>
<rect x="57.50" y="299.10" width="142.10" height="34.50" fill="none" stroke="#262626" stroke-width="1.4"/>
<line x1="58.40" y1="300.60" x2="58.40" y2="333.60" stroke="#000" stroke-width="1.2" stroke-linecap="butt"/>
<line x1="59.40" y1="328.60" x2="59.40" y2="333.60" stroke="#000" stroke-width="1.0" stroke-linecap="butt"/>
<text x="161.40" y="319.65" font-size="10.2" text-anchor="start" font-weight="normal" fill="#111" stroke="#111" stroke-width="0.45" textLength="17.2" lengthAdjust="spacingAndGlyphs">SG1</text>
<line x1="68.32" y1="333.60" x2="68.32" y2="335.50" stroke="#222" stroke-width="0.8" stroke-linecap="butt"/>
<line x1="74.59" y1="333.60" x2="74.59" y2="335.50" stroke="#222" stroke-width="0.8" stroke-linecap="butt"/>
<line x1="79.03" y1="333.60" x2="79.03" y2="335.50" stroke="#222" stroke-width="0.8" stroke-linecap="butt"/>
<line x1="82.48" y1="333.60" x2="82.48" y2="335.50" stroke="#222" stroke-width="0.8" stroke-linecap="butt"/>
<line x1="85.30" y1="333.60" x2="85.30" y2="335.50" stroke="#222" stroke-width="0.8" stroke-linecap="butt"/>
<line x1="87.69" y1="333.60" x2="87.69" y2="335.50" stroke="#222" stroke-width="0.8" stroke-linecap="butt"/>
<line x1="89.75" y1="333.60" x2="89.75" y2="335.50" stroke="#222" stroke-width="0.8" stroke-linecap="butt"/>
<line x1="91.57" y1="333.60" x2="91.57" y2="335.50" stroke="#222" stroke-width="0.8" stroke-linecap="butt"/>
<line x1="103.95" y1="333.60" x2="103.95" y2="335.50" stroke="#222" stroke-width="0.8" stroke-linecap="butt"/>
<line x1="110.23" y1="333.60" x2="110.23" y2="335.50" stroke="#222" stroke-width="0.8" stroke-linecap="butt"/>
<line x1="114.69" y1="333.60" x2="114.69" y2="335.50" stroke="#222" stroke-width="0.8" stroke-linecap="butt"/>
<line x1="118.15" y1="333.60" x2="118.15" y2="335.50" stroke="#222" stroke-width="0.8" stroke-linecap="butt"/>
<line x1="120.98" y1="333.60" x2="120.98" y2="335.50" stroke="#222" stroke-width="0.8" stroke-linecap="butt"/>
<line x1="123.37" y1="333.60" x2="123.37" y2="335.50" stroke="#222" stroke-width="0.8" stroke-linecap="butt"/>
<line x1="125.44" y1="333.60" x2="125.44" y2="335.50" stroke="#222" stroke-width="0.8" stroke-linecap="butt"/>
<line x1="127.27" y1="333.60" x2="127.27" y2="335.50" stroke="#222" stroke-width="0.8" stroke-linecap="butt"/>
<line x1="139.56" y1="333.60" x2="139.56" y2="335.50" stroke="#222" stroke-width="0.8" stroke-linecap="butt"/>
<line x1="145.79" y1="333.60" x2="145.79" y2="335.50" stroke="#222" stroke-width="0.8" stroke-linecap="butt"/>
<line x1="150.21" y1="333.60" x2="150.21" y2="335.50" stroke="#222" stroke-width="0.8" stroke-linecap="butt"/>
<line x1="153.64" y1="333.60" x2="153.64" y2="335.50" stroke="#222" stroke-width="0.8" stroke-linecap="butt"/>
<line x1="156.45" y1="333.60" x2="156.45" y2="335.50" stroke="#222" stroke-width="0.8" stroke-linecap="butt"/>
<line x1="158.82" y1="333.60" x2="158.82" y2="335.50" stroke="#222" stroke-width="0.8" stroke-linecap="butt"/>
<line x1="160.87" y1="333.60" x2="160.87" y2="335.50" stroke="#222" stroke-width="0.8" stroke-linecap="butt"/>
<line x1="162.68" y1="333.60" x2="162.68" y2="335.50" stroke="#222" stroke-width="0.8" stroke-linecap="butt"/>
<line x1="174.93" y1="333.60" x2="174.93" y2="335.50" stroke="#222" stroke-width="0.8" stroke-linecap="butt"/>
<line x1="181.14" y1="333.60" x2="181.14" y2="335.50" stroke="#222" stroke-width="0.8" stroke-linecap="butt"/>
<line x1="185.55" y1="333.60" x2="185.55" y2="335.50" stroke="#222" stroke-width="0.8" stroke-linecap="butt"/>
<line x1="188.97" y1="333.60" x2="188.97" y2="335.50" stroke="#222" stroke-width="0.8" stroke-linecap="butt"/>
<line x1="191.77" y1="333.60" x2="191.77" y2="335.50" stroke="#222" stroke-width="0.8" stroke-linecap="butt"/>
<line x1="194.13" y1="333.60" x2="194.13" y2="335.50" stroke="#222" stroke-width="0.8" stroke-linecap="butt"/>
<line x1="196.18" y1="333.60" x2="196.18" y2="335.50" stroke="#222" stroke-width="0.8" stroke-linecap="butt"/>
<line x1="197.98" y1="333.60" x2="197.98" y2="335.50" stroke="#222" stroke-width="0.8" stroke-linecap="butt"/>
<line x1="57.60" y1="333.60" x2="57.60" y2="336.40" stroke="#111" stroke-width="1.0" stroke-linecap="butt"/>
<line x1="93.20" y1="333.60" x2="93.20" y2="336.40" stroke="#111" stroke-width="1.0" stroke-linecap="butt"/>
<line x1="128.90" y1="333.60" x2="128.90" y2="336.40" stroke="#111" stroke-width="1.0" stroke-linecap="butt"/>
<line x1="164.30" y1="333.60" x2="164.30" y2="336.40" stroke="#111" stroke-width="1.0" stroke-linecap="butt"/>
<line x1="199.60" y1="333.60" x2="199.60" y2="336.40" stroke="#111" stroke-width="1.0" stroke-linecap="butt"/>
<text x="55.40" y="345.90" font-size="8.4" text-anchor="start" font-weight="bold" fill="#111" >0</text>
<text x="59.40" y="342.40" font-size="7.6" text-anchor="start" font-weight="bold" fill="#111" >0</text>
<text x="94.70" y="345.90" font-size="8.4" text-anchor="end" font-weight="bold" fill="#111" >10</text>
<text x="95.10" y="342.40" font-size="7.6" text-anchor="start" font-weight="bold" fill="#111" >1</text>
<text x="130.40" y="345.90" font-size="8.4" text-anchor="end" font-weight="bold" fill="#111" >10</text>
<text x="130.80" y="342.40" font-size="7.6" text-anchor="start" font-weight="bold" fill="#111" >2</text>
<text x="165.80" y="345.90" font-size="8.4" text-anchor="end" font-weight="bold" fill="#111" >10</text>
<text x="166.20" y="342.40" font-size="7.6" text-anchor="start" font-weight="bold" fill="#111" >3</text>
<text x="201.10" y="345.90" font-size="8.4" text-anchor="end" font-weight="bold" fill="#111" >10</text>
<text x="201.50" y="342.40" font-size="7.6" text-anchor="start" font-weight="bold" fill="#111" >4</text>
<path d="M40 319.5 L40 354 L75.4 354" fill="none" stroke="#222" stroke-width="1"/>
<text x="0" y="0" font-size="10.6" font-weight="bold" text-anchor="middle" fill="#111" transform="translate(45.2,294.3) rotate(-90)">Counts</text>
<text x="80.60" y="362.60" font-size="11.0" text-anchor="start" font-weight="bold" fill="#111" >pERK1/2</text>
<text x="266.20" y="162.60" font-size="14.6" text-anchor="start" font-weight="bold" fill="#000" stroke="#000" stroke-width="0.35">D</text>
<line x1="318.2" y1="206.55" x2="318.2" y2="334.50" stroke="#000" stroke-width="1.5"/>
<line x1="314.20" y1="333.80" x2="318.20" y2="333.80" stroke="#000" stroke-width="1.4" stroke-linecap="butt"/>
<text x="312.90" y="337.60" font-size="10.3" text-anchor="end" font-weight="bold" fill="#111" >0</text>
<line x1="314.20" y1="308.35" x2="318.20" y2="308.35" stroke="#000" stroke-width="1.4" stroke-linecap="butt"/>
<text x="312.90" y="312.15" font-size="10.3" text-anchor="end" font-weight="bold" fill="#111" >5</text>
<line x1="314.20" y1="282.90" x2="318.20" y2="282.90" stroke="#000" stroke-width="1.4" stroke-linecap="butt"/>
<text x="312.90" y="286.70" font-size="10.3" text-anchor="end" font-weight="bold" fill="#111" >10</text>
<line x1="314.20" y1="257.45" x2="318.20" y2="257.45" stroke="#000" stroke-width="1.4" stroke-linecap="butt"/>
<text x="312.90" y="261.25" font-size="10.3" text-anchor="end" font-weight="bold" fill="#111" >15</text>
<line x1="314.20" y1="232.00" x2="318.20" y2="232.00" stroke="#000" stroke-width="1.4" stroke-linecap="butt"/>
<text x="312.90" y="235.80" font-size="10.3" text-anchor="end" font-weight="bold" fill="#111" >20</text>
<line x1="314.20" y1="206.55" x2="318.20" y2="206.55" stroke="#000" stroke-width="1.4" stroke-linecap="butt"/>
<text x="312.90" y="210.35" font-size="10.3" text-anchor="end" font-weight="bold" fill="#111" >25</text>
<line x1="314.20" y1="333.80" x2="509.60" y2="333.80" stroke="#000" stroke-width="1.5" stroke-linecap="butt"/>
<defs><pattern id="hatch" patternUnits="userSpaceOnUse" width="2.33" height="2.33" patternTransform="rotate(45)"><rect width="2.33" height="2.33" fill="#fff"/><rect width="1.1" height="2.33" fill="#000"/></pattern><pattern id="check" patternUnits="userSpaceOnUse" width="4.86" height="4.86" x="423.55" y="320.75"><rect width="4.86" height="4.86" fill="#000"/><rect x="0.2" y="0.2" width="2.1" height="2.1" fill="#fff"/><rect x="2.63" y="2.63" width="2.1" height="2.1" fill="#fff"/></pattern></defs>
<rect x="327.1" y="249.4" width="76.3" height="84.40" fill="url(#hatch)" stroke="#000" stroke-width="2.0"/>
<line x1="365.50" y1="249.20" x2="365.50" y2="235.30" stroke="#000" stroke-width="1.8" stroke-linecap="butt"/>
<line x1="345.90" y1="235.30" x2="384.80" y2="235.30" stroke="#000" stroke-width="2.4" stroke-linecap="butt"/>
<rect x="422.7" y="320.0" width="78.0" height="13.80" fill="url(#check)" stroke="#000" stroke-width="1.8"/>
<line x1="461.30" y1="320.20" x2="461.30" y2="315.60" stroke="#000" stroke-width="1.8" stroke-linecap="butt"/>
<line x1="442.00" y1="315.60" x2="480.80" y2="315.60" stroke="#000" stroke-width="2.4" stroke-linecap="butt"/>
<line x1="365.50" y1="333.80" x2="365.50" y2="337.00" stroke="#000" stroke-width="1.3" stroke-linecap="butt"/>
<line x1="461.30" y1="333.80" x2="461.30" y2="337.00" stroke="#000" stroke-width="1.3" stroke-linecap="butt"/>
<text x="365.60" y="347.90" font-size="9.8" text-anchor="middle" font-weight="bold" fill="#111" ><tspan font-family="Liberation Serif" font-style="italic" font-weight="normal" font-size="10.8" dy="0.8">α</tspan><tspan dy="-0.8">-IgM beads</tspan></text>
<text x="460.00" y="348.30" font-size="9.8" text-anchor="middle" font-weight="bold" fill="#111" >ibrutinib +</text>
<text x="461.50" y="359.20" font-size="9.8" text-anchor="middle" font-weight="bold" fill="#111" ><tspan font-family="Liberation Serif" font-style="italic" font-weight="normal" font-size="10.8" dy="0.8">α</tspan><tspan dy="-0.8">-IgM beads</tspan></text>
<text x="413.80" y="192.00" font-size="12.6" text-anchor="middle" font-weight="bold" fill="#000" >SG4</text>
<text x="458.70" y="216.00" font-size="10.8" text-anchor="start" font-weight="bold" fill="#111" textLength="35.8" lengthAdjust="spacingAndGlyphs">p=0.002</text>
<text x="0" y="0" font-size="10.7" font-weight="bold" text-anchor="middle" fill="#111" transform="translate(298.4,270.2) rotate(-90)">pERK1/2 +ve cells (%)</text>
</svg>
</body></html>
